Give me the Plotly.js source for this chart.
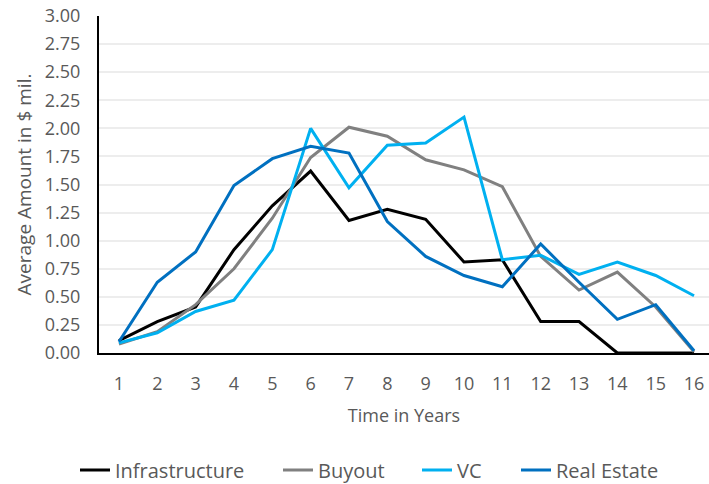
<!DOCTYPE html>
<html>
<head>
<meta charset="utf-8">
<script src="https://cdn.plot.ly/plotly-3.0.1.min.js"></script>
<style>html,body{margin:0;padding:0;background:#fff;}#chart{width:709px;height:484px;}</style>
</head>
<body>
<div id="chart"></div>
<script>
const years = [1,2,3,4,5,6,7,8,9,10,11,12,13,14,15,16];
const infrastructure = [0.11,0.28,0.41,0.92,1.31,1.62,1.18,1.28,1.19,0.81,0.83,0.28,0.28,0.00,0.00,0.00];
const buyout = [0.08,0.19,0.43,0.75,1.20,1.74,2.01,1.93,1.72,1.63,1.48,0.86,0.56,0.72,0.41,0.01];
const vc = [0.09,0.18,0.37,0.47,0.92,2.00,1.47,1.85,1.87,2.10,0.83,0.87,0.70,0.81,0.69,0.51];
const realEstate = [0.10,0.63,0.90,1.49,1.73,1.84,1.78,1.17,0.86,0.69,0.59,0.97,0.63,0.30,0.43,0.02];
const seriesNames = ["Infrastructure","Buyout","VC","Real Estate"];
const yTicks = [0,0.25,0.5,0.75,1,1.25,1.5,1.75,2,2.25,2.5,2.75,3];

const colors = ["#000000","#808080","#00B0F0","#0070C0"];
const legendIds = ["legend","legend2","legend3","legend4"];
const legendX = [75, 278, 417, 516];
const allData = [infrastructure, buyout, vc, realEstate];
const traces = allData.map((d,i)=>({
  x: years, y: d, type: "scatter", mode: "lines", name: seriesNames[i],
  legend: legendIds[i],
  line: {color: colors[i], width: 3}
}));
const fam = "Open Sans, Noto Sans, sans-serif";
const layout = {
  width: 709, height: 484,
  margin: {l: 99, r: 0, t: 16, b: 131, autoexpand: false},
  paper_bgcolor: "#fff", plot_bgcolor: "#fff",
  font: {family: fam, color: "#595959", size: 18},
  showlegend: true,
  xaxis: {
    range: [0.48, 16.39], tickvals: years, ticktext: years.map(String),
    showgrid: false, zeroline: false, showline: true, linecolor: "#000", linewidth: 2,
    ticks: "", ticklabelstandoff: 13, tickfont: {family: fam, size: 18, color: "#595959"},
    title: {text: "Time in Years", font: {family: fam, size: 18, color: "#595959"}, standoff: 16},
    fixedrange: true
  },
  yaxis: {
    range: [0, 3], tickvals: yTicks, ticktext: yTicks.map(v=>v.toFixed(2)),
    showgrid: true, gridcolor: "#EDEDED", gridwidth: 2,
    zeroline: false, showline: true, linecolor: "#000", linewidth: 2,
    ticks: "", ticklabelstandoff: 13, tickfont: {family: fam, size: 18, color: "#595959"},
    title: {text: "Average Amount in $ mil.", font: {family: fam, size: 19, color: "#595959"}, standoff: 8},
    fixedrange: true
  }
};
legendIds.forEach((id,i)=>{
  layout[id] = {orientation: "h", xref: "container", yref: "container",
    x: legendX[i]/709, xanchor: "left", y: 1 - 470/484, yanchor: "middle",
    bgcolor: "rgba(0,0,0,0)",
    font: {family: fam, size: 20, color: "#595959"}};
});
Plotly.newPlot("chart", traces, layout, {displayModeBar: false, staticPlot: true});
</script>
</body>
</html>
